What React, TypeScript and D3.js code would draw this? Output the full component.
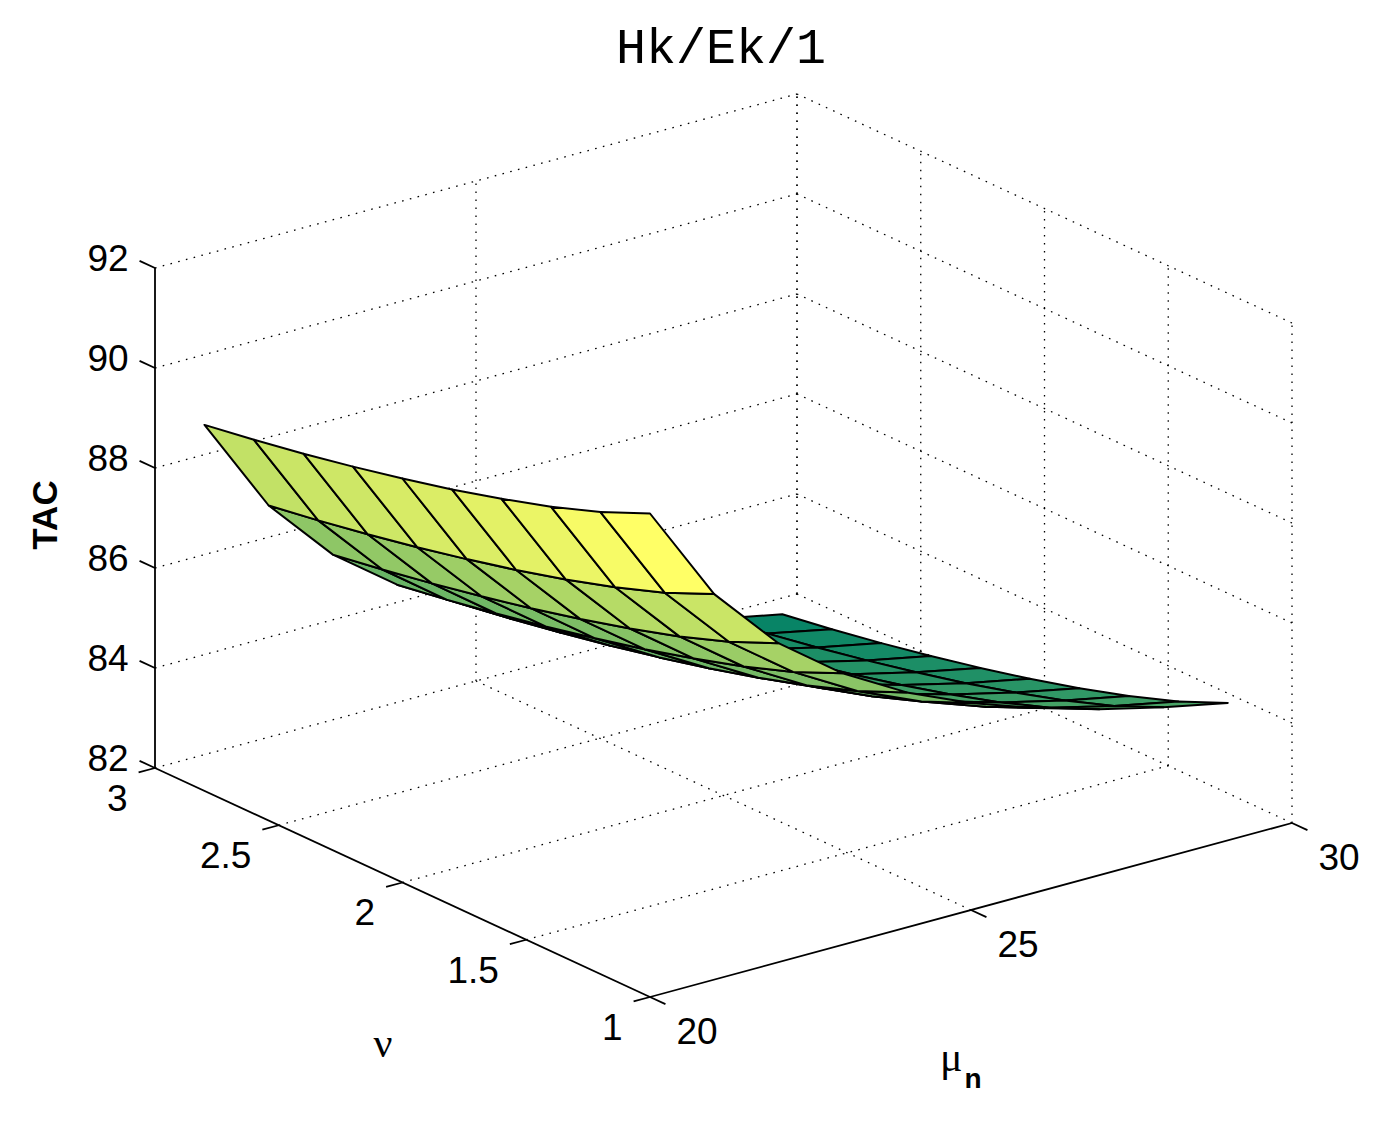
import React, { useEffect, useRef } from 'react';
import * as d3 from 'd3';

// grid of the surface
const muValues = [20, 21, 22, 23, 24, 25, 26, 27, 28, 29];
const nuValues = [1.0, 1.2, 1.4, 1.6, 1.8, 2.0, 2.2, 2.4, 2.6, 2.8];

// TAC, one row per mu value, columns follow nuValues
const tacValues: number[][] = [
  [91.67, 91.24, 90.89, 90.59, 90.32, 90.08, 89.86, 89.66, 89.48, 89.32],
  [89.71, 89.28, 88.93, 88.63, 88.36, 88.12, 87.90, 87.70, 87.52, 87.36],
  [88.38, 87.95, 87.60, 87.30, 87.03, 86.79, 86.57, 86.37, 86.19, 86.03],
  [87.43, 87.00, 86.65, 86.35, 86.08, 85.84, 85.62, 85.42, 85.24, 85.08],
  [86.70, 86.27, 85.92, 85.62, 85.35, 85.11, 84.89, 84.69, 84.51, 84.35],
  [86.14, 85.71, 85.36, 85.06, 84.79, 84.55, 84.33, 84.13, 83.95, 83.79],
  [85.69, 85.26, 84.91, 84.61, 84.34, 84.10, 83.88, 83.68, 83.50, 83.34],
  [85.32, 84.89, 84.54, 84.24, 83.97, 83.73, 83.51, 83.31, 83.13, 82.97],
  [85.01, 84.58, 84.23, 83.93, 83.66, 83.42, 83.20, 83.00, 82.82, 82.66],
  [84.75, 84.32, 83.97, 83.67, 83.40, 83.16, 82.94, 82.74, 82.56, 82.40],
];

const muTicks = [20, 25, 30];
const nuTicks = [1, 1.5, 2, 2.5, 3];
const zTicks = [82, 84, 86, 88, 90, 92];

const W = 1385;
const H = 1125;

const Surface3D: React.FC = () => {
  const svgRef: any = useRef<SVGSVGElement>(null);

  useEffect(() => {
    if (!svgRef.current) return;
    const svg = d3.select(svgRef.current);
    svg.selectAll('*').remove();

    // normalised box coordinates
    const xS = d3.scaleLinear().domain([20, 30]).range([0, 1]);
    const yS = d3.scaleLinear().domain([1, 3]).range([0, 1]);
    const zS = d3.scaleLinear().domain([82, 92]).range([0, 1]);

    // screen vectors of the box edges (view az -37.5, el ~21)
    const O = [650, 997];
    const U = [642, -174];
    const V = [-495, -229];
    const Z = [0, -500];

    const proj = (mu: number, nu: number, z: number): [number, number] => {
      const u = xS(mu), v = yS(nu), w = zS(z);
      return [O[0] + u * U[0] + v * V[0] + w * Z[0], O[1] + u * U[1] + v * V[1] + w * Z[1]];
    };
    // distance toward the viewer
    const depth = (mu: number, nu: number, z: number) =>
      -459.7 * xS(mu) - 604.8 * yS(nu) + 189.2 * zS(z);

    const line = d3.line();

    const grid = svg.append('g').attr('fill', 'none').attr('stroke', '#000')
      .attr('stroke-width', 1.3).attr('stroke-dasharray', '1.6,6.4');

    // floor
    muTicks.slice(1).forEach(m => {
      grid.append('path').attr('d', line([proj(m, 1, 82), proj(m, 3, 82)]));
    });
    nuTicks.slice(1).forEach(n => {
      grid.append('path').attr('d', line([proj(20, n, 82), proj(30, n, 82)]));
    });
    // back wall nu = 3
    muTicks.slice(1).forEach(m => {
      grid.append('path').attr('d', line([proj(m, 3, 82), proj(m, 3, 92)]));
    });
    zTicks.slice(1).forEach(z => {
      grid.append('path').attr('d', line([proj(20, 3, z), proj(30, 3, z)]));
    });
    // side wall mu = 30
    nuTicks.forEach(n => {
      grid.append('path').attr('d', line([proj(30, n, 82), proj(30, n, 92)]));
    });
    zTicks.slice(1).forEach(z => {
      grid.append('path').attr('d', line([proj(30, 1, z), proj(30, 3, z)]));
    });

    // axes
    const axes = svg.append('g').attr('fill', 'none').attr('stroke', '#000').attr('stroke-width', 1.8);
    axes.append('path').attr('d', line([proj(20, 3, 82), proj(20, 3, 92)]));
    axes.append('path').attr('d', line([proj(20, 3, 82), proj(20, 1, 82)]));
    axes.append('path').attr('d', line([proj(20, 1, 82), proj(30, 1, 82)]));

    const tickLen = 17;
    const unit = (v: number[]) => {
      const l = Math.hypot(v[0], v[1]);
      return [v[0] / l, v[1] / l];
    };
    const dNu = unit(V);
    const dMu = unit(U);
    const labels = svg.append('g').attr('font-family', 'Liberation Sans, Arial, Helvetica, sans-serif')
      .attr('font-size', 37).attr('fill', '#000');

    zTicks.forEach(z => {
      const p = proj(20, 3, z);
      const e = [p[0] + dNu[0] * tickLen, p[1] + dNu[1] * tickLen];
      axes.append('path').attr('d', line([p, e as [number, number]]));
      labels.append('text').attr('x', e[0] - 11).attr('y', e[1] - 2)
        .attr('text-anchor', 'end').attr('dominant-baseline', 'central').text(z);
    });
    nuTicks.forEach(n => {
      const p = proj(20, n, 82);
      const e = [p[0] - dMu[0] * tickLen, p[1] - dMu[1] * tickLen];
      axes.append('path').attr('d', line([p, e as [number, number]]));
      labels.append('text').attr('x', e[0] - 11).attr('y', e[1] + 26)
        .attr('text-anchor', 'end').attr('dominant-baseline', 'central').text(n);
    });
    muTicks.forEach(m => {
      const p = proj(m, 1, 82);
      const e = [p[0] - dNu[0] * tickLen, p[1] - dNu[1] * tickLen];
      axes.append('path').attr('d', line([p, e as [number, number]]));
      labels.append('text').attr('x', e[0] + 11).attr('y', e[1] + 27)
        .attr('text-anchor', 'start').attr('dominant-baseline', 'central').text(m);
    });

    // summer colormap, 64 levels
    const flat = tacValues.flat();
    const cmin = d3.min(flat)!;
    const cmax = d3.max(flat)!;
    const cIndex = d3.scaleLinear().domain([cmin, cmax]).range([0, 64]);
    const summer = (c: number) => {
      const k = Math.min(63, Math.max(0, Math.floor(cIndex(c))));
      const t = k / 63;
      return d3.rgb(t * 255, (0.5 + 0.5 * t) * 255, 0.4 * 255).formatHex();
    };

    type Face = { pts: [number, number][]; color: string; d: number };
    const faces: Face[] = [];
    for (let i = 0; i < muValues.length - 1; i++) {
      for (let j = 0; j < nuValues.length - 1; j++) {
        const corners: [number, number][] = [[i, j], [i + 1, j], [i + 1, j + 1], [i, j + 1]];
        const pts = corners.map(([a, b]) => proj(muValues[a], nuValues[b], tacValues[a][b]));
        const d = d3.mean(corners, ([a, b]) => depth(muValues[a], nuValues[b], tacValues[a][b]))!;
        faces.push({ pts, color: summer(tacValues[i][j]), d });
      }
    }
    faces.sort((a, b) => a.d - b.d);

    svg.append('g')
      .selectAll('path')
      .data(faces)
      .join('path')
      .attr('d', f => line(f.pts) + 'Z')
      .attr('fill', f => f.color)
      .attr('stroke', '#000')
      .attr('stroke-width', 2)
      .attr('stroke-linejoin', 'round');

    // title and axis labels
    svg.append('text').attr('x', 721).attr('y', 63).attr('text-anchor', 'middle')
      .attr('font-family', 'Courier New, Courier, Liberation Mono, monospace')
      .attr('font-size', 50).text('Hk/Ek/1');

    svg.append('text').attr('transform', 'translate(57,515) rotate(-90)')
      .attr('text-anchor', 'middle').attr('font-family', 'Liberation Sans, Arial, sans-serif')
      .attr('font-weight', 'bold').attr('font-size', 35).text('TAC');

    svg.append('text').attr('x', 383).attr('y', 1057).attr('text-anchor', 'middle')
      .attr('font-family', 'Liberation Serif, Times New Roman, serif')
      .attr('font-size', 42).text('ν');

    const mu = svg.append('text').attr('x', 940).attr('y', 1071)
      .attr('font-family', 'Liberation Serif, Times New Roman, serif').attr('font-size', 42);
    mu.append('tspan').text('μ');
    mu.append('tspan').attr('dx', 2).attr('dy', 17)
      .attr('font-family', 'Liberation Sans, Arial, sans-serif')
      .attr('font-weight', 'bold').attr('font-size', 28).text('n');
  }, []);

  return <svg ref={svgRef} width={W} height={H} style={{ position: 'absolute', left: 0, top: 0, background: '#fff' }}></svg>;
};

const App = () => {
  return (
    <div>
      <Surface3D />
    </div>
  );
};

export default App;
